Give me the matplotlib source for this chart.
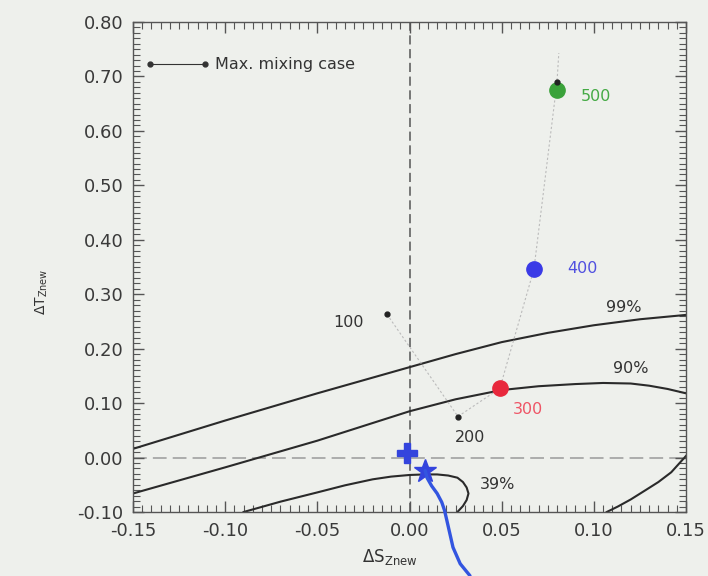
import matplotlib
matplotlib.use("Agg")
import matplotlib.pyplot as plt
from matplotlib.ticker import MultipleLocator, FormatStrFormatter

plt.rcParams['font.family'] = ['DejaVu Sans']
plt.rcParams['mathtext.default'] = 'regular'

# ---- data ----
depth_labels = ["100", "200", "300", "400", "500"]
depth_x = [-0.0122, 0.0263, 0.049, 0.0675, 0.080]
depth_y = [0.263, 0.0754, 0.127, 0.346, 0.675]
depth_colors = ["#222222", "#222222", "#e8283c", "#3a3ae6", "#3aa23a"]
depth_label_x = [-0.033, 0.033, 0.064, 0.094, 0.101]
depth_label_y = [0.248, 0.037, 0.088, 0.347, 0.664]
label_colors = ["#333333", "#333333", "#ee5566", "#5050e0", "#44aa44"]

path_x = [-0.0122, 0.0263, 0.049, 0.0675, 0.080, 0.081]
path_y = [0.263, 0.0754, 0.127, 0.346, 0.689, 0.743]

mix_x = [-0.1408, -0.111]
mix_y = [0.7224, 0.7224]

c99_x = [-0.15, -0.10, -0.05, 0.00, 0.025, 0.05, 0.075, 0.10, 0.125, 0.15]
c99_y = [0.016, 0.068, 0.118, 0.166, 0.190, 0.212, 0.229, 0.243, 0.254, 0.262]

c90_x = [-0.15, -0.10, -0.05, 0.00, 0.025, 0.05, 0.07, 0.09, 0.105, 0.12,
         0.13, 0.14, 0.15]
c90_y = [-0.066, -0.018, 0.031, 0.085, 0.107, 0.124, 0.131, 0.135, 0.137,
         0.136, 0.132, 0.126, 0.118]

c39_x = [-0.09, -0.07, -0.05, -0.035, -0.02, -0.01, 0.0, 0.008, 0.015, 0.021,
         0.026, 0.029, 0.031, 0.032, 0.031, 0.029, 0.026]
c39_y = [-0.100, -0.081, -0.064, -0.051, -0.040, -0.035, -0.032, -0.031,
         -0.031, -0.033, -0.037, -0.045, -0.055, -0.066, -0.078, -0.089, -0.100]

clow_x = [0.107, 0.113, 0.120, 0.128, 0.135, 0.142, 0.150]
clow_y = [-0.100, -0.090, -0.077, -0.060, -0.045, -0.027, 0.003]

contour_labels = ["99%", "90%", "39%"]
contour_label_x = [0.116, 0.120, 0.0475]
contour_label_y = [0.276, 0.164, -0.050]

plus_x, plus_y = -0.0014, 0.009
star_x, star_y = 0.0085, -0.024
blue_x = [0.0085, 0.0095, 0.012, 0.015, 0.0175, 0.019, 0.0203, 0.0236, 0.0275, 0.0328]
blue_y = [-0.024, -0.037, -0.052, -0.066, -0.082, -0.097, -0.116, -0.165, -0.195, -0.217]

xticks = [-0.15, -0.10, -0.05, 0.00, 0.05, 0.10, 0.15]
yticks = [-0.10, 0.00, 0.10, 0.20, 0.30, 0.40, 0.50, 0.60, 0.70, 0.80]

bg = "#eef0ec"
fig = plt.figure(figsize=(7.08, 5.76), dpi=100, facecolor=bg)
ax = fig.add_axes([133/708, 1-512/576, (686-133)/708, (512-22)/576])
ax.set_facecolor(bg)

ax.set_xlim(-0.15, 0.15)
ax.set_ylim(-0.10, 0.80)

# reference lines
ax.axvline(0, color="#555555", lw=1.1, dashes=(6, 3), zorder=1)
ax.axhline(0, color="#9a9a9a", lw=1.1, dashes=(9, 4), zorder=1)

# contours
for cx, cy in [(c99_x, c99_y), (c90_x, c90_y), (c39_x, c39_y), (clow_x, clow_y)]:
    ax.plot(cx, cy, color="#2a2a2a", lw=1.5, zorder=2, solid_joinstyle='round')
for t, tx, ty in zip(contour_labels, contour_label_x, contour_label_y):
    ax.text(tx, ty, t, ha="center", va="center", fontsize=11.5, color="#333333")

# trajectory
ax.plot(path_x, path_y, color="#bbbbbb", lw=0.8, ls=(0, (2, 2)), zorder=2)

# depth points
for i in range(len(depth_x)):
    big = depth_colors[i] != "#222222"
    ax.plot(depth_x[i], depth_y[i], 'o', color=depth_colors[i],
            ms=11 if big else 3.5, zorder=4)
    ax.text(depth_label_x[i], depth_label_y[i], depth_labels[i],
            ha="center", va="center", fontsize=11.5, color=label_colors[i])
ax.plot(path_x[4], path_y[4], 'o', color="#222222", ms=3.5, zorder=5)

# max mixing case
ax.plot(mix_x, mix_y, color="#333333", lw=0.8, marker='o', ms=3.5, zorder=4)
ax.text(-0.1055, 0.7224, "Max. mixing case", ha="left", va="center",
        fontsize=11.5, color="#333333")

# blue marks
ax.plot(plus_x, plus_y, 'P', color="#3344dd", ms=14, zorder=6)
ax.plot(star_x, star_y, '*', color="#3344dd", ms=17, zorder=6)
ax.plot(blue_x, blue_y, color="#3355e0", lw=2.4, zorder=6, clip_on=False,
        solid_capstyle='round')

# ticks
ax.xaxis.set_major_locator(MultipleLocator(0.05))
ax.xaxis.set_minor_locator(MultipleLocator(0.005))
ax.yaxis.set_major_locator(MultipleLocator(0.10))
ax.yaxis.set_minor_locator(MultipleLocator(0.01))
ax.set_xticks(xticks)
ax.set_yticks(yticks)
ax.xaxis.set_major_formatter(FormatStrFormatter('%.2f'))
ax.yaxis.set_major_formatter(FormatStrFormatter('%.2f'))
ax.tick_params(which='both', direction='in', top=True, right=True,
               color="#555555")
ax.tick_params(which='major', length=8, width=1.0, labelsize=13,
               labelcolor="#3a3a3a", pad=7)
ax.tick_params(which='minor', length=5, width=0.8)
for s in ax.spines.values():
    s.set_color("#555555")
    s.set_linewidth(1.0)

fig.text(390/708, 1-557/576, r"ΔS$_{Znew}$", ha="center", va="center",
         fontsize=12, color="#333333")
fig.text(42/708, 1-292/576, r"ΔT$_{Znew}$", ha="center", va="center",
         fontsize=10, color="#333333", rotation=90)

fig.savefig("out.png", dpi=100, facecolor=bg)
